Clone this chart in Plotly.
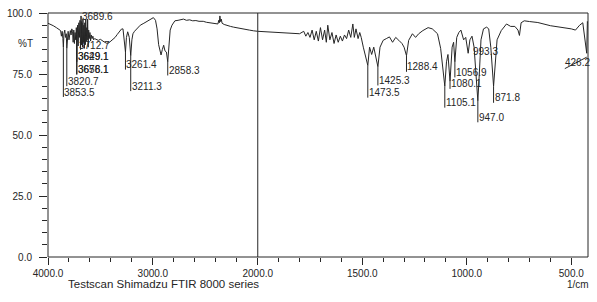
import numpy as np
import plotly.graph_objects as go

# ---------------- data ----------------
# Left region (4000 - 2000 1/cm)
wn_L = [4000, 3980, 3950, 3920, 3900, 3880, 3872, 3865, 3858, 3853.5, 3848, 3840, 3833, 3826, 3820.7,
        3815, 3808, 3800, 3794, 3787, 3780, 3773, 3766, 3760, 3754, 3748, 3742, 3736, 3730, 3724,
        3718, 3712.7, 3706, 3700, 3695, 3689.6, 3685, 3680, 3676, 3671, 3667, 3662, 3658, 3653, 3649,
        3644, 3640, 3635, 3630, 3626, 3622, 3617, 3612, 3607, 3600, 3594, 3588, 3580, 3572, 3565,
        3556, 3540, 3520, 3500, 3480, 3460, 3440, 3420, 3400, 3380, 3360, 3340, 3320, 3300, 3285,
        3275, 3261.4, 3252, 3240, 3225, 3211.3, 3200, 3190, 3175, 3150, 3120, 3086, 3050, 3020, 2995,
        2975, 2960, 2945, 2930, 2922, 2910, 2897, 2885, 2871, 2858.3, 2848, 2835, 2818, 2790, 2760,
        2730, 2708, 2680, 2650, 2620, 2590, 2560, 2520, 2490, 2460, 2430, 2400, 2380, 2372, 2366,
        2361, 2355, 2348, 2340, 2320, 2290, 2260, 2230, 2200, 2160, 2120, 2080, 2040, 2000]
T_L = [95.8, 95.5, 94.8, 94.0, 93.3, 92.8, 90.5, 92.5, 89.5, 86.0, 91.5, 93.0, 90.0, 91.5, 85.5,
       91.0, 92.5, 89.0, 90.5, 92.8, 91.0, 93.5, 92.5, 88.0, 93.0, 87.5, 92.0, 89.0, 94.0, 88.0,
       95.0, 86.5, 96.0, 90.0, 97.0, 85.0, 98.8, 87.0, 96.0, 86.0, 97.5, 88.0, 95.0, 85.5, 96.0,
       87.0, 97.5, 88.5, 94.0, 89.0, 97.5, 86.0, 93.0, 89.5, 92.0, 88.5, 91.0, 89.5, 90.5, 89.0,
       89.5, 89.2, 88.8, 89.2, 88.5, 88.0, 87.6, 87.8, 88.5, 89.2, 90.0, 91.2, 92.5, 93.4, 93.5,
       90.0, 84.0, 90.0, 92.3, 90.0, 82.5, 89.0, 91.5, 92.5, 93.8, 95.0, 95.8, 96.8, 97.6, 98.1,
       97.0, 93.5, 87.0, 83.5, 82.8, 85.0, 86.8, 84.5, 84.0, 80.0, 86.0, 93.0, 95.0, 96.8, 97.0,
       97.3, 97.5, 97.0, 97.2, 96.8, 96.9, 96.6, 96.6, 96.2, 96.0, 95.8, 95.6, 95.5, 97.0, 96.0,
       98.8, 96.5, 97.5, 95.8, 95.3, 94.8, 94.5, 94.2, 93.9, 93.5, 93.2, 93.0, 92.7, 92.5]

# Right region (2000 - 420 1/cm)
wn_R = [2000, 1950, 1900, 1850, 1800, 1780, 1770, 1760, 1750, 1740, 1730, 1720, 1710, 1700, 1690,
        1680, 1672, 1665, 1655, 1645, 1635, 1625, 1615, 1605, 1595, 1585, 1575, 1565, 1555, 1545,
        1538, 1530, 1520, 1512, 1505, 1495, 1485, 1473.5, 1465, 1455, 1445, 1435, 1425.3, 1415, 1400,
        1385, 1370, 1355, 1340, 1325, 1310, 1300, 1288.4, 1278, 1260, 1245, 1230, 1210, 1185, 1165,
        1140, 1125, 1115, 1105.1, 1097, 1090, 1080.1, 1070, 1063, 1056.9, 1048, 1038, 1028, 1015, 1005,
        993.3, 985, 975, 965, 955, 947.0, 940, 932, 920, 905, 895, 885, 871.8, 863, 855,
        835, 810, 790, 770, 755, 748, 740, 725, 700, 660, 600, 535, 500, 480, 460,
        445, 433, 426.2, 423, 420]
T_R = [92.5, 92.3, 92.0, 91.8, 91.5, 92.5, 90.5, 92.0, 90.0, 93.0, 89.0, 92.5, 88.5, 94.0, 89.0,
       93.0, 88.0, 95.0, 89.0, 92.0, 87.5, 91.0, 88.0, 90.5, 88.5, 91.0, 89.5, 93.0, 90.0, 95.5,
       90.0, 93.5, 89.5, 92.0, 90.0, 86.0, 83.0, 78.5, 86.0, 83.0, 86.0, 81.5, 78.0, 86.0, 88.8,
       89.5, 90.2, 88.0, 90.0, 88.8, 87.5, 86.0, 82.5, 88.8, 91.5, 90.0, 91.5, 92.8, 94.0, 93.5,
       91.5, 85.5, 78.0, 70.0, 80.0, 83.0, 72.0, 86.0, 88.0, 80.0, 90.0, 92.0, 93.0, 89.0, 90.0,
       83.5, 89.0, 90.5, 86.0, 75.0, 64.0, 75.0, 89.0, 93.5, 94.2, 93.5, 86.0, 70.0, 80.0, 89.0,
       92.8, 95.5, 94.5, 94.5, 93.0, 90.8, 96.0, 96.8, 96.5, 96.1, 94.8, 94.0, 93.5, 93.0, 95.0,
       96.0, 88.0, 83.5, 96.5, 96.0]

assert len(wn_L) == len(T_L) and len(wn_R) == len(T_R)

# Peak labels, left region
pkL_text = ["3853.5", "3820.7", "3712.7", "3689.6", "3649.1", "3629.1", "3676.1", "3658.1",
            "3261.4", "3211.3", "2858.3"]
pkL_wn = [3853.5, 3820.7, 3712.7, 3682, 3727, 3725, 3727, 3724, 3261.4, 3211.3, 2858.3]
pkL_lab = [66.8, 71.2, 86.0, 97.6, 81.2, 81.2, 76.0, 76.0, 78.0, 69.2, 75.6]

# Peak labels, right region
pkR_text = ["1473.5", "1425.3", "1288.4", "1105.1", "1080.1", "1056.9", "993.3", "947.0", "871.8"]
pkR_wn = [1473.5, 1425.3, 1288.4, 1105.1, 1080.1, 1056.9, 993.3, 947.0, 871.8]
pkR_lab = [66.5, 71.5, 77.1, 62.4, 70.1, 74.8, 83.5, 56.4, 64.4]

edge_text = "426.2"
edge_wn = 426.2

y_ticks = [0, 25, 50, 75, 100]
xL_ticks = [4000, 3000]
xR_ticks = [2000, 1500, 1000, 500]

# ---------------- figure ----------------
INK = "#262626"
FONT = "Liberation Sans, Arial, sans-serif"
f = 211.7 / 545.0

fig = go.Figure()
fig.add_trace(go.Scatter(x=wn_L, y=T_L, mode="lines", xaxis="x", yaxis="y",
                         line=dict(color=INK, width=1), hoverinfo="skip"))
fig.add_trace(go.Scatter(x=wn_R, y=T_R, mode="lines", xaxis="x2", yaxis="y",
                         line=dict(color=INK, width=1), hoverinfo="skip"))


def leaders(wns, labs, xs, ys):
    lx, ly = [], []
    for w, lab in zip(wns, labs):
        top = float(np.interp(w, xs[::-1], ys[::-1]))
        if lab < top - 1:
            lx += [w, w, None]
            ly += [top, lab - 1.2, None]
        elif lab > top + 1:
            lx += [w, w, None]
            ly += [top, lab - 1.0, None]
    return lx, ly


lx, ly = leaders(pkL_wn, pkL_lab, wn_L, T_L)
fig.add_trace(go.Scatter(x=lx, y=ly, mode="lines", xaxis="x", yaxis="y",
                         line=dict(color=INK, width=1), hoverinfo="skip"))
rx, ry = leaders(pkR_wn, pkR_lab, wn_R, T_R)
fig.add_trace(go.Scatter(x=rx, y=ry, mode="lines", xaxis="x2", yaxis="y",
                         line=dict(color=INK, width=1), hoverinfo="skip"))

lab_font = dict(family=FONT, size=10, color=INK)
ann = []
for t, w, lab in zip(pkL_text, pkL_wn, pkL_lab):
    ann.append(dict(x=w, y=lab, xref="x", yref="y", text=t, showarrow=False,
                    xanchor="left", yanchor="middle", xshift=-1, yshift=2, font=lab_font))
for t, w, lab in zip(pkR_text, pkR_wn, pkR_lab):
    ann.append(dict(x=w, y=lab, xref="x2", yref="y", text=t, showarrow=False,
                    xanchor="left", yanchor="middle", xshift=3 if t == "993.3" else -1,
                    yshift=2, font=lab_font))
ann.append(dict(x=edge_wn, y=78.8, xref="x2", yref="y", text=edge_text, showarrow=False,
                xanchor="center", yanchor="middle", xshift=-9, yshift=2, font=lab_font))
ann.append(dict(x=-0.024, y=87.5, xref="paper", yref="y", text="%T", showarrow=False,
                xanchor="right", yanchor="middle", font=lab_font))
ann.append(dict(x=0.213, y=-0.112, xref="paper", yref="paper",
                text="Testscan Shimadzu FTIR 8000 series", showarrow=False,
                xanchor="center", yanchor="middle", font=dict(family=FONT, size=11.5, color=INK)))
ann.append(dict(x=0.982, y=-0.112, xref="paper", yref="paper", text="1/cm", showarrow=False,
                xanchor="center", yanchor="middle", font=lab_font))

shapes = [
    dict(type="rect", xref="paper", yref="paper", x0=0, y0=0, x1=1, y1=1,
         line=dict(color=INK, width=1)),
    dict(type="line", xref="paper", yref="paper", x0=f, y0=0, x1=f, y1=1,
         line=dict(color=INK, width=1)),
    dict(type="line", xref="x2", yref="y", x0=531, y0=77.2, x1=edge_wn, y1=81.9,
         line=dict(color=INK, width=1)),
]

tickfont = dict(family=FONT, size=10, color=INK)
common = dict(showgrid=False, zeroline=False, showline=False, ticks="outside",
              tickcolor=INK, tickwidth=1, tickfont=tickfont, anchor="y")

fig.update_layout(
    width=597, height=302,
    margin=dict(l=43, r=9, t=7, b=45),
    paper_bgcolor="white", plot_bgcolor="white",
    showlegend=False,
    xaxis=dict(domain=[0, f], range=[4000, 2000], tickmode="array", tickvals=xL_ticks,
               ticktext=[f"{v:.1f}" for v in xL_ticks], ticklen=7,
               minor=dict(tickmode="array", tickvals=list(range(3800, 2000, -200)),
                          ticks="outside", ticklen=4, tickcolor=INK, showgrid=False),
               **common),
    xaxis2=dict(domain=[f, 1], range=[2000, 420], tickmode="array", tickvals=xR_ticks,
                ticktext=[f"{v:.1f}" for v in xR_ticks], ticklen=7,
                minor=dict(tickmode="array", tickvals=list(range(1900, 420, -100)),
                           ticks="outside", ticklen=4, tickcolor=INK, showgrid=False),
                **common),
    yaxis=dict(range=[0, 100], tickmode="array", tickvals=y_ticks,
               ticktext=[f"{v:.1f}" for v in y_ticks], ticklen=8,
               showgrid=False, zeroline=False, showline=False, ticks="outside",
               tickcolor=INK, tickwidth=1, tickfont=tickfont, ticklabelstandoff=5,
               minor=dict(tickmode="array", tickvals=list(range(5, 100, 5)),
                          ticks="outside", ticklen=5, tickcolor=INK, showgrid=False)),
    annotations=ann,
    shapes=shapes,
)

fig.write_html("out.html")
